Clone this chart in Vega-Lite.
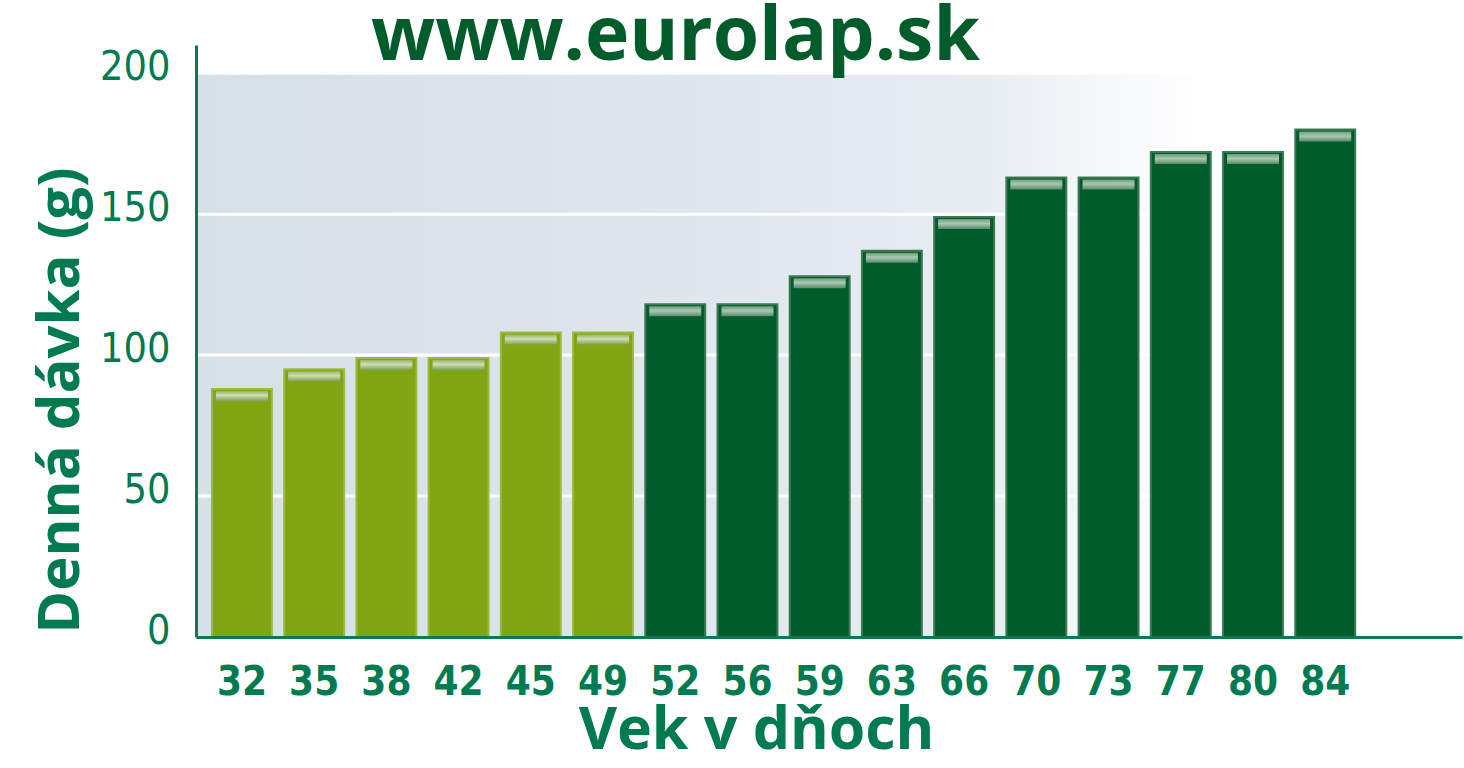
{
  "$schema": "https://vega.github.io/schema/vega-lite/v6.json",
  "width": 1266,
  "height": 592,
  "autosize": {"type": "none"},
  "padding": {"left": 196, "top": 45, "right": 2, "bottom": 131},
  "background": "#ffffff",
  "title": {
    "text": "www.eurolap.sk",
    "font": "Open Sans",
    "fontWeight": "bold",
    "fontSize": 75,
    "color": "#005c2b",
    "anchor": "start",
    "frame": "group",
    "dx": 175,
    "dy": 75,
    "baseline": "alphabetic",
    "offset": -15
  },
  "config": {"view": {"stroke": null}},
  "layer": [
    {
      "data": {"values": [{"zona": "pozadie"}]},
      "mark": {
        "type": "rect",
        "fill": {
          "gradient": "linear",
          "x1": 0, "y1": 0, "x2": 1, "y2": 0,
          "stops": [
            {"offset": 0, "color": "#d6e0e8"},
            {"offset": 0.35, "color": "#dee5ec"},
            {"offset": 0.62, "color": "#e7ecf1"},
            {"offset": 0.7, "color": "#f4f6f9"},
            {"offset": 0.8, "color": "#ffffff"},
            {"offset": 1, "color": "#ffffff"}
          ]
        }
      },
      "encoding": {
        "y": {"datum": 200, "type": "quantitative", "scale": {"domain": [0, 210], "nice": false}},
        "y2": {"datum": 0}
      }
    },
    {
      "data": {"values": [{"g": 50}, {"g": 100}, {"g": 150}, {"g": 200}]},
      "mark": {"type": "rule", "color": "#ffffff", "strokeWidth": 3},
      "encoding": {
        "y": {"field": "g", "type": "quantitative"}
      }
    },
    {
      "data": {
        "values": [
          {"vek": "32", "davka": 88, "faza": "A"},
          {"vek": "35", "davka": 95, "faza": "A"},
          {"vek": "38", "davka": 99, "faza": "A"},
          {"vek": "42", "davka": 99, "faza": "A"},
          {"vek": "45", "davka": 108, "faza": "A"},
          {"vek": "49", "davka": 108, "faza": "A"},
          {"vek": "52", "davka": 118, "faza": "B"},
          {"vek": "56", "davka": 118, "faza": "B"},
          {"vek": "59", "davka": 128, "faza": "B"},
          {"vek": "63", "davka": 137, "faza": "B"},
          {"vek": "66", "davka": 149, "faza": "B"},
          {"vek": "70", "davka": 163, "faza": "B"},
          {"vek": "73", "davka": 163, "faza": "B"},
          {"vek": "77", "davka": 172, "faza": "B"},
          {"vek": "80", "davka": 172, "faza": "B"},
          {"vek": "84", "davka": 180, "faza": "B"}
        ]
      },
      "encoding": {
        "x": {
          "field": "vek",
          "type": "ordinal",
          "sort": null,
          "scale": {"paddingInner": 0.17, "paddingOuter": 0.85, "align": 0.13},
          "axis": {
            "zindex": 1,
            "title": "Vek v dňoch",
            "titleFont": "Open Sans",
            "titleFontWeight": "bold",
            "titleFontSize": 59,
            "titleColor": "#007a4f",
            "titleX": 560,
            "titleY": 111,
            "titleBaseline": "alphabetic",
            "titleAlign": "center",
            "labelFont": "DejaVu Sans Condensed",
            "labelFontWeight": "bold",
            "labelFontSize": 40,
            "labelColor": "#007a50",
            "labelAngle": 0,
            "labelPadding": 25,
            "labelOverlap": false,
            "ticks": false,
            "grid": false,
            "domainColor": "#0b7a4e",
            "domainWidth": 3
          }
        },
        "y": {
          "field": "davka",
          "type": "quantitative",
          "axis": {
            "zindex": 1,
            "values": [0, 50, 100, 150, 200],
            "title": "Denná dávka (g)",
            "titleFont": "Open Sans",
            "titleFontWeight": "bold",
            "titleFontSize": 58,
            "titleColor": "#007a4f",
            "titleAngle": 270,
            "titleX": -118,
            "titleY": 355,
            "titleBaseline": "alphabetic",
            "titleAlign": "center",
            "labelFont": "DejaVu Sans Condensed",
            "labelFontWeight": "normal",
            "labelFontSize": 41,
            "labelColor": "#007a50",
            "labelPadding": 26,
            "labelOffset": -6,
            "ticks": false,
            "grid": false,
            "domainColor": "#0b7a4e",
            "domainWidth": 3
          }
        }
      },
      "layer": [
        {
          "mark": {"type": "bar", "strokeWidth": 2},
          "encoding": {
            "color": {"field": "faza", "type": "nominal", "scale": {"domain": ["A", "B"], "range": ["#82a514", "#005c2b"]}, "legend": null},
            "stroke": {"field": "faza", "type": "nominal", "scale": {"domain": ["A", "B"], "range": ["#9bbb3c", "#3d7a55"]}, "legend": null}
          }
        },
        {
          "mark": {
            "type": "tick",
            "thickness": 10,
            "size": 52,
            "yOffset": 7,
            "opacity": 0.7,
            "color": {
              "gradient": "linear",
              "x1": 0, "y1": 0, "x2": 0, "y2": 1,
              "stops": [
                {"offset": 0, "color": "#9fb89a"},
                {"offset": 0.45, "color": "#f2f6ee"},
                {"offset": 1, "color": "#7f9f80"}
              ]
            }
          },
          "encoding": {}
        }
      ]
    }
  ]
}
